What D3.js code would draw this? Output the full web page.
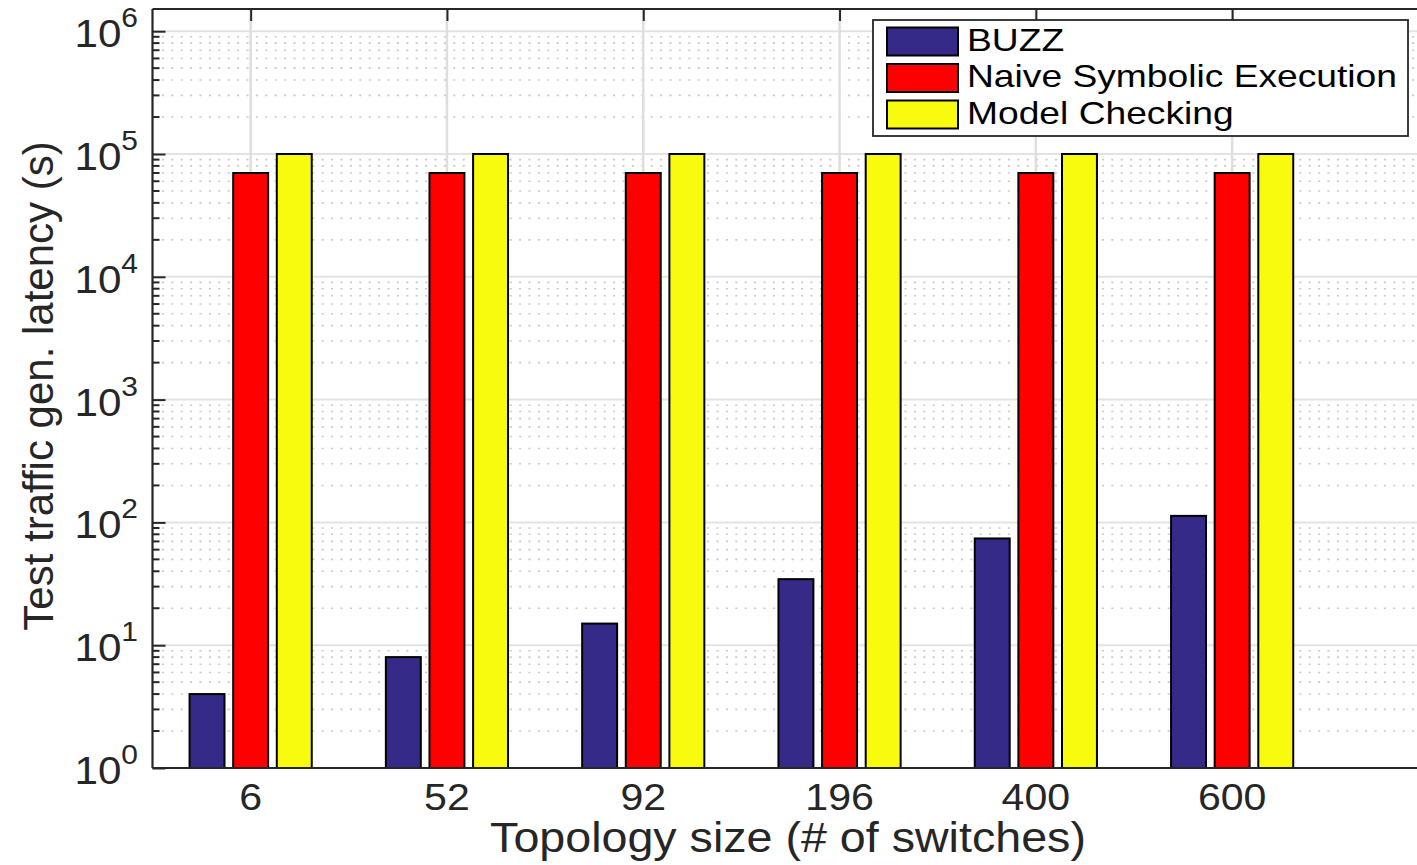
<!DOCTYPE html>
<html>
<head>
<meta charset="utf-8">
<script src="https://cdn.jsdelivr.net/npm/d3@7"></script>
<style>
  body { margin: 0; background: #fff; }
  svg { display: block; font-family: "Liberation Sans", Arial, sans-serif; }
</style>
</head>
<body>
<svg id="chart"></svg>
<script>
// data
const categories = ["6", "52", "92", "196", "400", "600"];
const seriesNames = ["BUZZ", "Naive Symbolic Execution", "Model Checking"];
const buzz = [4, 8, 15, 34.5, 74, 113];
const naiveSymbolic = [70000, 70000, 70000, 70000, 70000, 70000];
const modelChecking = [100000, 100000, 100000, 100000, 100000, 100000];
const seriesColors = ["#352a87", "#ff0000", "#f9fb0e"];
const yTickExponents = [0, 1, 2, 3, 4, 5, 6];

const series = [buzz, naiveSymbolic, modelChecking];

const width = 1417, height = 865;
const plotLeft = 152.5, plotTop = 9, plotBottom = 768;
const step = 196.3;
const stretch = 1.11; // text in the original is a bit wide

const svg = d3.select("#chart").attr("width", width).attr("height", height);

// x: category index (1..6), matlab style xlim [0.5, 7.5]
const x = d3.scaleLinear().domain([0.5, 7.5]).range([plotLeft, plotLeft + 7 * step]);
const y = d3.scaleLog().domain([1, 1e6]).range([plotBottom, 31.2]);

const plotRight = x(7.5);

// minor grid (dotted)
const minor = y.ticks().filter(v => Math.abs(Math.log10(v) - Math.round(Math.log10(v))) > 1e-6);
svg.append("g").selectAll("line").data(minor).enter().append("line")
  .attr("x1", plotLeft).attr("x2", plotRight)
  .attr("y1", d => y(d)).attr("y2", d => y(d))
  .attr("stroke", "#c8c8c8").attr("stroke-width", 1.6)
  .attr("stroke-dasharray", "2,7.4");

// major grid
svg.append("g").selectAll("line").data(yTickExponents).enter().append("line")
  .attr("x1", plotLeft).attr("x2", plotRight)
  .attr("y1", d => y(Math.pow(10, d))).attr("y2", d => y(Math.pow(10, d)))
  .attr("stroke", "#e3e3e3").attr("stroke-width", 2);

svg.append("g").selectAll("line").data(categories).enter().append("line")
  .attr("x1", (d, i) => x(i + 1)).attr("x2", (d, i) => x(i + 1))
  .attr("y1", plotTop).attr("y2", plotBottom)
  .attr("stroke", "#dedede").attr("stroke-width", 2.5);

// y axis ticks (pointing inward)
const axisY = d3.axisLeft(y)
  .tickValues(yTickExponents.map(e => Math.pow(10, e)))
  .tickSize(-13).tickFormat("");
const gy = svg.append("g").attr("transform", `translate(${plotLeft},0)`).call(axisY);
gy.select(".domain").remove();
gy.selectAll(".tick line").attr("stroke", "#262626").attr("stroke-width", 2);

svg.append("g").selectAll("line").data(minor).enter().append("line")
  .attr("x1", plotLeft).attr("x2", plotLeft + 7)
  .attr("y1", d => y(d)).attr("y2", d => y(d))
  .attr("stroke", "#262626").attr("stroke-width", 2);

// x ticks at top and bottom
const axisTop = d3.axisTop(x).tickValues(categories.map((d, i) => i + 1)).tickSize(-12).tickFormat("");
const gt = svg.append("g").attr("transform", `translate(0,${plotTop})`).call(axisTop);
gt.select(".domain").remove();
gt.selectAll(".tick line").attr("stroke", "#262626").attr("stroke-width", 2);

const axisBottom = d3.axisBottom(x).tickValues(categories.map((d, i) => i + 1)).tickSize(-12).tickFormat("");
const gb = svg.append("g").attr("transform", `translate(0,${plotBottom})`).call(axisBottom);
gb.select(".domain").remove();
gb.selectAll(".tick line").attr("stroke", "#262626").attr("stroke-width", 2);

// bars (matlab grouped bar: width 0.178, offset 0.222)
const barW = 0.178, offset = 0.2222;
series.forEach((vals, s) => {
  svg.append("g").selectAll("rect").data(vals).enter().append("rect")
    .attr("x", (d, i) => x(i + 1 + (s - 1) * offset - barW / 2))
    .attr("width", x(barW) - x(0))
    .attr("y", d => y(d))
    .attr("height", d => y(1) - y(d))
    .attr("fill", seriesColors[s])
    .attr("stroke", "#000").attr("stroke-width", 2);
});

// frame
svg.append("line").attr("x1", plotLeft).attr("x2", plotRight).attr("y1", plotBottom).attr("y2", plotBottom)
  .attr("stroke", "#262626").attr("stroke-width", 2.2);
svg.append("line").attr("x1", plotLeft).attr("x2", plotRight).attr("y1", plotTop).attr("y2", plotTop)
  .attr("stroke", "#262626").attr("stroke-width", 1.8);
svg.append("line").attr("x1", plotLeft).attr("x2", plotLeft).attr("y1", plotTop).attr("y2", plotBottom)
  .attr("stroke", "#262626").attr("stroke-width", 2.2);

// y tick labels 10^n
yTickExponents.forEach(e => {
  const t = svg.append("text")
    .attr("transform", `translate(138,${y(Math.pow(10, e)) + 16}) scale(${stretch},1)`)
    .attr("text-anchor", "end").attr("fill", "#262626");
  t.append("tspan").attr("font-size", 38).text("10");
  t.append("tspan").attr("font-size", 27).attr("dy", -20).text(e);
});

// x tick labels
categories.forEach((c, i) => {
  svg.append("text")
    .attr("transform", `translate(${x(i + 1)},810) scale(${stretch},1)`)
    .attr("text-anchor", "middle").attr("font-size", 37).attr("fill", "#262626")
    .text(c);
});

// axis titles
svg.append("text")
  .attr("transform", `translate(788,852) scale(${stretch},1)`)
  .attr("text-anchor", "middle").attr("font-size", 42).attr("fill", "#262626")
  .text("Topology size (# of switches)");

svg.append("text")
  .attr("transform", `translate(53,386) rotate(-90)`)
  .attr("text-anchor", "middle").attr("font-size", 42).attr("fill", "#262626")
  .text("Test traffic gen. latency (s)");

// legend
const lg = svg.append("g");
lg.append("rect").attr("x", 873).attr("y", 20).attr("width", 535).attr("height", 116)
  .attr("fill", "#fff").attr("stroke", "#262626").attr("stroke-width", 1.8);
seriesNames.forEach((name, s) => {
  const ry = 27.5 + s * 36.5;
  lg.append("rect").attr("x", 887).attr("y", ry).attr("width", 71).attr("height", 28)
    .attr("fill", seriesColors[s]).attr("stroke", "#000").attr("stroke-width", 2);
  lg.append("text")
    .attr("transform", `translate(967,${ry + 23}) scale(1.2,1)`)
    .attr("font-size", 31).attr("fill", "#000")
    .text(name);
});
</script>
</body>
</html>
